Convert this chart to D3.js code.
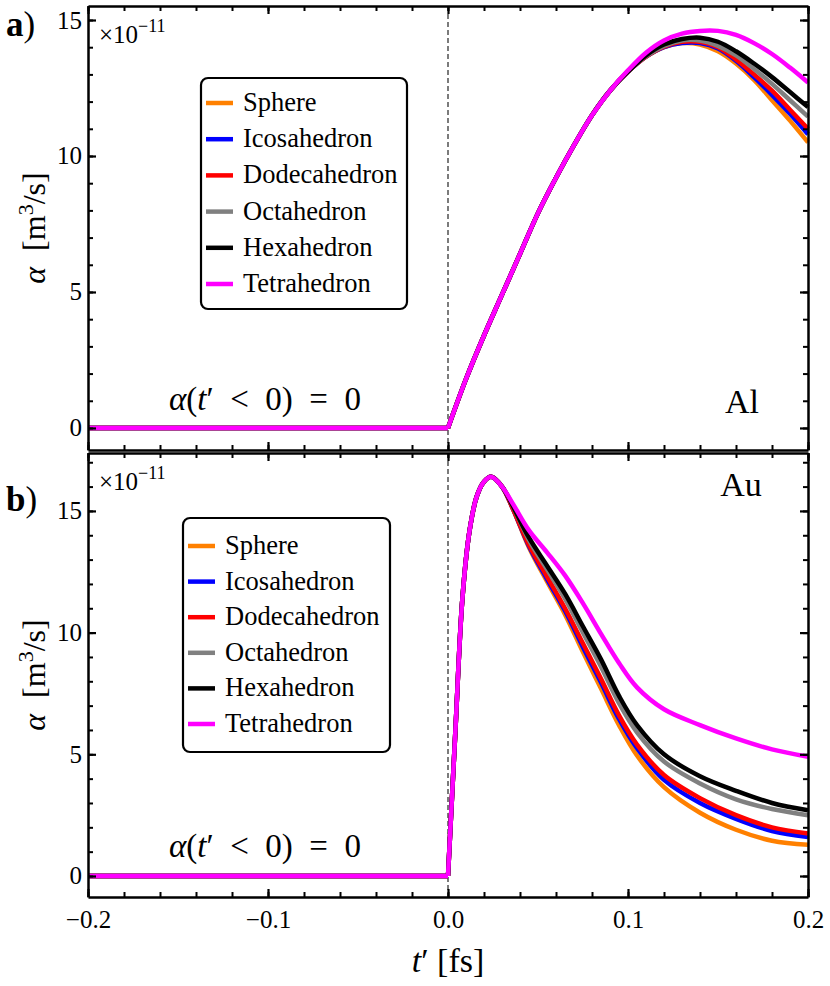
<!DOCTYPE html>
<html>
<head>
<meta charset="utf-8">
<script src="https://cdn.jsdelivr.net/npm/d3@7"></script>
<style>
  body { margin: 0; background: #fff; }
  text { font-family: "Liberation Serif", "DejaVu Serif", serif; fill: #000; }
</style>
</head>
<body>
<div id="chart"></div>
<script>
// Data
const shapes = ["Sphere", "Icosahedron", "Dodecahedron", "Octahedron", "Hexahedron", "Tetrahedron"];
const colors = ["#ff8000", "#0000ff", "#ff0000", "#808080", "#000000", "#ff00ff"];

const xTicks = [-0.2, -0.1, 0.0, 0.1, 0.2];
const yTicks = [0, 5, 10, 15];

// panel a (Al), alpha in units of 1e-11 m^3/s
const tA = [-0.2, 0, 0.01, 0.02, 0.03, 0.04, 0.05, 0.06, 0.07, 0.08, 0.09, 0.1, 0.11, 0.12, 0.13, 0.14, 0.15, 0.16, 0.17, 0.18, 0.19, 0.2];
const sphereA = [0, 0, 1.8, 3.4, 4.9, 6.4, 7.9, 9.2, 10.4, 11.5, 12.4, 13.1, 13.65, 14.0, 14.15, 14.1, 13.85, 13.4, 12.8, 12.05, 11.3, 10.5];
const icosaA = [0, 0, 1.8, 3.4, 4.9, 6.4, 7.9, 9.2, 10.4, 11.5, 12.4, 13.1, 13.65, 14.0, 14.15, 14.15, 13.95, 13.5, 12.9, 12.25, 11.55, 10.8];
const dodecaA = [0, 0, 1.8, 3.4, 4.9, 6.4, 7.9, 9.2, 10.4, 11.5, 12.4, 13.1, 13.65, 14.02, 14.2, 14.2, 14.0, 13.55, 13.0, 12.4, 11.7, 11.0];
const octaA = [0, 0, 1.8, 3.4, 4.9, 6.4, 7.9, 9.2, 10.4, 11.5, 12.4, 13.1, 13.67, 14.05, 14.25, 14.25, 14.05, 13.7, 13.2, 12.65, 12.05, 11.45];
const hexaA = [0, 0, 1.8, 3.4, 4.9, 6.4, 7.9, 9.2, 10.4, 11.5, 12.4, 13.1, 13.7, 14.1, 14.3, 14.35, 14.2, 13.85, 13.4, 12.9, 12.35, 11.8];
const tetraA = [0, 0, 1.8, 3.4, 4.9, 6.4, 7.9, 9.2, 10.4, 11.5, 12.4, 13.15, 13.8, 14.25, 14.5, 14.6, 14.6, 14.45, 14.15, 13.75, 13.25, 12.7];

// panel b (Au)
const tB = [-0.2, 0, 0.004, 0.008, 0.012, 0.016, 0.02, 0.024, 0.03, 0.036, 0.045, 0.055, 0.065, 0.075, 0.085, 0.095, 0.105, 0.12, 0.14, 0.16, 0.18, 0.2];
const sphereB = [0, 0, 5.8, 11.4, 14.2, 15.6, 16.2, 16.4, 16.0, 15.1, 13.5, 12.1, 10.75, 9.2, 7.7, 6.2, 4.95, 3.65, 2.6, 1.9, 1.45, 1.28];
const icosaB = [0, 0, 5.8, 11.4, 14.2, 15.6, 16.2, 16.4, 16.0, 15.1, 13.55, 12.2, 10.9, 9.4, 7.95, 6.45, 5.25, 3.95, 3.0, 2.35, 1.85, 1.6];
const dodecaB = [0, 0, 5.8, 11.4, 14.2, 15.6, 16.2, 16.4, 16.0, 15.1, 13.6, 12.3, 11.0, 9.55, 8.1, 6.6, 5.4, 4.15, 3.2, 2.5, 2.0, 1.75];
const octaB = [0, 0, 5.8, 11.4, 14.2, 15.6, 16.2, 16.4, 16.0, 15.2, 13.8, 12.6, 11.4, 10.0, 8.6, 7.1, 5.9, 4.7, 3.8, 3.15, 2.75, 2.5];
const hexaB = [0, 0, 5.8, 11.4, 14.2, 15.6, 16.2, 16.4, 16.0, 15.2, 13.9, 12.75, 11.6, 10.25, 8.9, 7.4, 6.2, 5.0, 4.1, 3.5, 3.0, 2.7];
const tetraB = [0, 0, 5.8, 11.4, 14.2, 15.6, 16.2, 16.4, 16.0, 15.3, 14.2, 13.3, 12.35, 11.2, 9.95, 8.75, 7.75, 6.85, 6.2, 5.65, 5.2, 4.9];

// Dimensions
const dimensions = {
  width: 830,
  height: 986,
  left: 88,
  right: 808,
};

const svg = d3
  .select("#chart")
  .append("svg")
  .attr("width", dimensions.width)
  .attr("height", dimensions.height);

const xScale = d3.scaleLinear().domain([-0.2, 0.2]).range([dimensions.left, dimensions.right]);
const xMinor = d3.range(-20, 21, 2).map((d) => d / 100);

const panels = [
  {
    tag: "a", top: 6, bottom: 450, domain: [-0.81, 15.515],
    t: tA, series: [sphereA, icosaA, dodecaA, octaA, hexaA, tetraA],
    legend: { x: 201, y: 78, w: 206, h: 231, row0: 25 },
    material: "Al", matX: 742, matY: 413, condY: 410, xLabels: false,
  },
  {
    tag: "b", top: 453, bottom: 897, domain: [-0.863, 17.38],
    t: tB, series: [sphereB, icosaB, dodecaB, octaB, hexaB, tetraB],
    legend: { x: 183, y: 518, w: 207, h: 234, row0: 28 },
    material: "Au", matX: 741, matY: 496, condY: 857, xLabels: true,
  },
];

function styleAxis(g, tickWidth) {
  g.attr("font-family", '"Liberation Serif", serif');
  g.select(".domain").attr("stroke", "#000").attr("stroke-width", 2.5);
  g.selectAll(".tick line").attr("stroke", "#000").attr("stroke-width", tickWidth);
  g.selectAll(".tick text").attr("font-size", 25);
}

panels.forEach((p) => {
  const yScale = d3.scaleLinear().domain(p.domain).range([p.bottom, p.top]);
  const yMinor = d3.range(0, Math.floor(p.domain[1]) + 1);
  const g = svg.append("g");

  // dashed line at t' = 0
  g.append("line")
    .attr("x1", xScale(0)).attr("x2", xScale(0))
    .attr("y1", p.top).attr("y2", p.bottom)
    .attr("stroke", "#444")
    .attr("stroke-width", 1.4)
    .attr("stroke-dasharray", "5,3");

  // curves: flat part for t' < 0, smooth part from t' = 0 on
  const line = d3
    .line()
    .x((d) => xScale(d[0]))
    .y((d) => yScale(d[1]))
    .curve(d3.curveCatmullRom.alpha(0.5));

  p.series.forEach((vals, i) => {
    const pts = p.t.map((t, j) => [t, vals[j]]);
    const path = line(pts.filter((d) => d[0] <= 0)) + line(pts.filter((d) => d[0] >= 0));
    g.append("path")
      .attr("d", path)
      .attr("fill", "none")
      .attr("stroke", colors[i])
      .attr("stroke-width", 4.5)
      .attr("stroke-linejoin", "round");
  });

  // minor ticks
  g.append("g").attr("transform", `translate(${dimensions.left},0)`)
    .call(d3.axisLeft(yScale).tickValues(yMinor).tickSize(-5).tickFormat(""))
    .call((s) => s.select(".domain").remove())
    .call((s) => styleAxis(s, 2));
  g.append("g").attr("transform", `translate(${dimensions.right},0)`)
    .call(d3.axisRight(yScale).tickValues(yMinor).tickSize(-5).tickFormat(""))
    .call((s) => s.select(".domain").remove())
    .call((s) => styleAxis(s, 2));
  g.append("g").attr("transform", `translate(0,${p.top})`)
    .call(d3.axisTop(xScale).tickValues(xMinor).tickSize(-5).tickFormat(""))
    .call((s) => s.select(".domain").remove())
    .call((s) => styleAxis(s, 2));
  g.append("g").attr("transform", `translate(0,${p.bottom})`)
    .call(d3.axisBottom(xScale).tickValues(xMinor).tickSize(-5).tickFormat(""))
    .call((s) => s.select(".domain").remove())
    .call((s) => styleAxis(s, 2));

  // major ticks + frame
  g.append("g").attr("transform", `translate(${dimensions.left},0)`)
    .call(d3.axisLeft(yScale).tickValues(yTicks).tickSize(-8).tickSizeOuter(0).tickPadding(6).tickFormat(d3.format("d")))
    .call((s) => styleAxis(s, 2.2));
  g.append("g").attr("transform", `translate(${dimensions.right},0)`)
    .call(d3.axisRight(yScale).tickValues(yTicks).tickSize(-8).tickSizeOuter(0).tickFormat(""))
    .call((s) => styleAxis(s, 2.2));
  g.append("g").attr("transform", `translate(0,${p.top})`)
    .call(d3.axisTop(xScale).tickValues(xTicks).tickSize(-8).tickSizeOuter(0).tickFormat(""))
    .call((s) => styleAxis(s, 2.2));
  g.append("g").attr("transform", `translate(0,${p.bottom})`)
    .call(
      d3.axisBottom(xScale).tickValues(xTicks).tickSize(-8).tickSizeOuter(0).tickPadding(13)
        .tickFormat((d) => (p.xLabels ? (d < 0 ? "\u2212" + (-d).toFixed(1) : d.toFixed(1)) : ""))
    )
    .call((s) => styleAxis(s, 2.2));

  // panel tag
  const tag = g.append("text").attr("x", 6).attr("y", p.top + (p.tag === "a" ? 30 : 58)).attr("font-size", 35);
  tag.append("tspan").attr("font-weight", "bold").text(p.tag);
  tag.append("tspan").text(")");

  // exponent
  const ex = g.append("text").attr("x", 99).attr("y", p.top + 37).attr("font-size", 25);
  ex.append("tspan").text("\u00d710");
  ex.append("tspan").attr("dy", -11).attr("font-size", 18).text("\u221211");

  // y label
  const yl = g.append("text")
    .attr("transform", `translate(45,${(p.top + p.bottom) / 2}) rotate(-90)`)
    .attr("text-anchor", "middle")
    .attr("font-size", 32);
  yl.append("tspan").attr("font-style", "italic").text("\u03b1");
  yl.append("tspan").text("\u2002[m");
  yl.append("tspan").attr("dy", -12).attr("font-size", 22).text("3");
  yl.append("tspan").attr("dy", 12).text("/s]");

  // condition text
  const ct = g.append("text")
    .attr("x", 265).attr("y", p.condY)
    .attr("text-anchor", "middle")
    .attr("font-size", 33);
  ct.append("tspan").attr("font-style", "italic").text("\u03b1");
  ct.append("tspan").text("(");
  ct.append("tspan").attr("font-style", "italic").text("t");
  ct.append("tspan").text("\u2032\u2002<\u20020)\u2002=\u20020");

  // material
  g.append("text").attr("x", p.matX).attr("y", p.matY).attr("text-anchor", "middle").attr("font-size", 34).text(p.material);

  // legend
  const L = p.legend;
  const lg = g.append("g").attr("transform", `translate(${L.x},${L.y})`);
  lg.append("rect")
    .attr("width", L.w).attr("height", L.h)
    .attr("rx", 7)
    .attr("fill", "#fff")
    .attr("stroke", "#000")
    .attr("stroke-width", 2.2);
  const rowH = (L.h - 2 * L.row0) / 5;
  shapes.forEach((s, i) => {
    const yy = L.row0 + i * rowH;
    lg.append("line")
      .attr("x1", 5).attr("x2", 32).attr("y1", yy).attr("y2", yy)
      .attr("stroke", colors[i]).attr("stroke-width", 4.5);
    lg.append("text").attr("x", 42).attr("y", yy + 8).attr("font-size", 26.5).text(s);
  });
});

// x label
const xl = svg.append("text")
  .attr("x", xScale(0))
  .attr("y", 972)
  .attr("text-anchor", "middle")
  .attr("font-size", 34);
xl.append("tspan").attr("font-style", "italic").text("t");
xl.append("tspan").text("\u2032 [fs]");
</script>
</body>
</html>
